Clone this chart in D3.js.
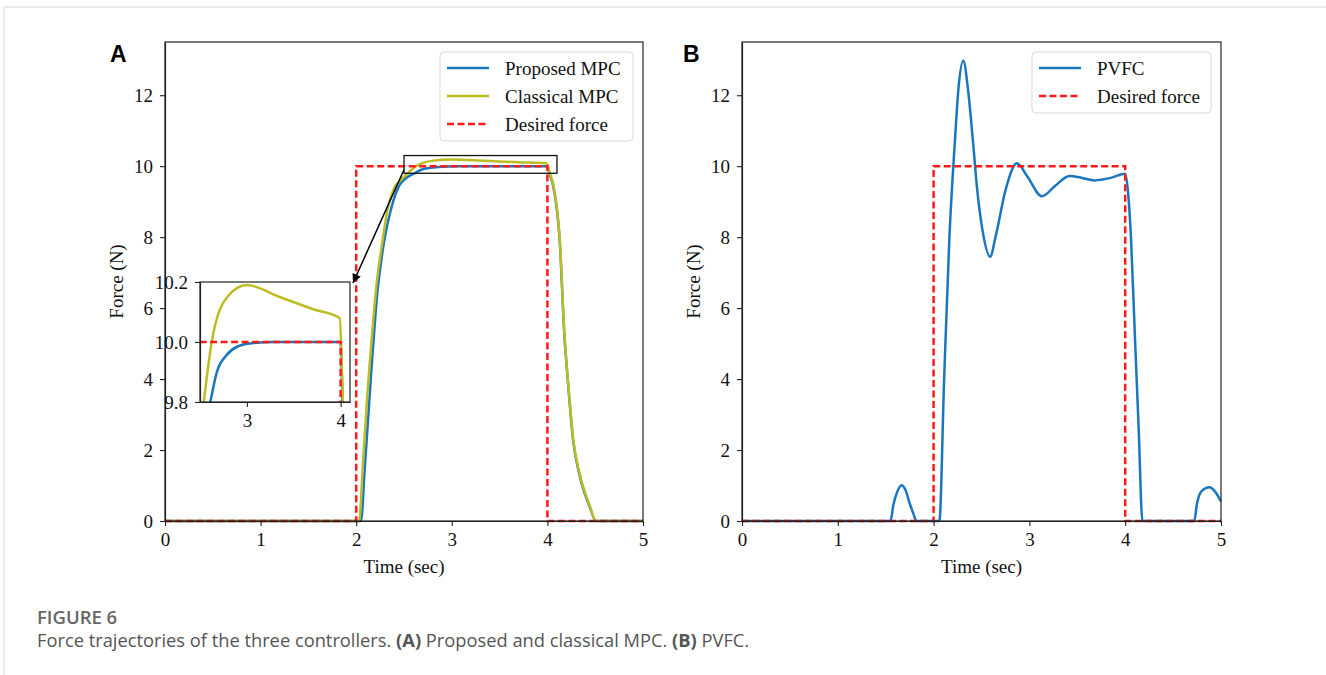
<!DOCTYPE html>
<html>
<head>
<meta charset="utf-8">
<script src="https://cdn.jsdelivr.net/npm/d3@7"></script>
<style>
  body { margin: 0; background: #fff; }
  svg text { font-family: "Liberation Serif", "Times New Roman", serif; }
  .tick text { font-family: "Liberation Serif", "Times New Roman", serif; font-size: 19px; fill: #111; }
</style>
</head>
<body>
<svg id="chart" width="1326" height="675"></svg>
<script>
// ---- data ----
var timeTicks = [0, 1, 2, 3, 4, 5];
var forceTicks = [0, 2, 4, 6, 8, 10, 12];
var insetTimeTicks = [3, 4];
var insetForceTicks = [9.8, 10.0, 10.2];

var desiredTime = [0, 2, 2, 4, 4, 5];
var desiredForce = [0, 0, 10, 10, 0, 0];

var proposedTime = [0, 2.05, 2.09, 2.13, 2.16, 2.19, 2.22, 2.25, 2.30, 2.37, 2.45, 2.52, 2.61, 2.68, 2.78, 2.90, 3.05, 3.30, 4.0,
  4.02, 4.06, 4.13, 4.175, 4.22, 4.27, 4.34, 4.44, 4.51, 5];
var proposedForce = [0, 0, 1.5, 3.1, 4.3, 5.4, 6.4, 7.1, 8.0, 8.85, 9.45, 9.66, 9.8, 9.9, 9.955, 9.985, 9.996, 10.0, 10.0,
  9.8, 9.45, 7.85, 5.35, 3.75, 2.25, 1.25, 0.42, 0, 0];

var classicalTime = [0, 2.03, 2.07, 2.11, 2.14, 2.17, 2.21, 2.27, 2.33, 2.40, 2.47, 2.54, 2.625, 2.79, 3.0, 3.35, 3.70, 3.99,
  4.025, 4.06, 4.13, 4.175, 4.22, 4.27, 4.34, 4.44, 4.51, 5];
var classicalForce = [0, 0, 1.6, 3.3, 4.4, 5.4, 6.6, 7.8, 8.8, 9.4, 9.62, 9.8, 10.0, 10.15, 10.19, 10.15, 10.11, 10.08,
  9.8, 9.5, 7.9, 5.4, 3.8, 2.3, 1.3, 0.45, 0, 0];

var pvfcTime = [0, 1.55, 1.58, 1.62, 1.667, 1.71, 1.75, 1.79, 1.82, 2.06, 2.11, 2.165, 2.223, 2.258, 2.31, 2.36, 2.41, 2.456,
  2.51, 2.59, 2.65, 2.75, 2.87, 2.98, 3.13, 3.27, 3.42, 3.55, 3.68, 3.85, 4.0, 4.025, 4.06, 4.10, 4.14, 4.18,
  4.72, 4.75, 4.80, 4.88, 4.94, 5.0];
var pvfcForce = [0, 0, 0.45, 0.82, 1.01, 0.85, 0.5, 0.2, 0, 0, 4.0, 8.0, 10.73, 12.14, 12.97, 12.14, 10.73, 9.32,
  8.2, 7.45, 8.05, 9.32, 10.08, 9.7, 9.15, 9.45, 9.72, 9.67, 9.6, 9.67, 9.79, 9.4, 8.0, 5.3, 2.65, 0,
  0, 0.5, 0.85, 0.95, 0.82, 0.55];

// zoom window shown in the inset
var zoomTime = [2.5, 4.1];
var zoomForce = [9.8, 10.3];

var blue = "#1b77bd";
var olive = "#bcbd22";
var red = "#ff1a1a";
var lw = 2.5;

var svg = d3.select("#chart");

// light page frame
svg.append("line").attr("x1", 4).attr("y1", 7).attr("x2", 1326).attr("y2", 7)
  .attr("stroke", "#d6d6d6").attr("stroke-width", 1);
svg.append("line").attr("x1", 4).attr("y1", 7).attr("x2", 4).attr("y2", 675)
  .attr("stroke", "#d6d6d6").attr("stroke-width", 1);

svg.append("defs").append("marker")
  .attr("id", "arrow")
  .attr("viewBox", "0 0 10 10")
  .attr("refX", 10).attr("refY", 5)
  .attr("markerWidth", 11).attr("markerHeight", 9)
  .attr("markerUnits", "userSpaceOnUse")
  .attr("orient", "auto")
  .append("path").attr("d", "M0,0 L10,5 L0,10 z").attr("fill", "#000");

function pairs(t, f) {
  return t.map(function(d, i) { return [d, f[i]]; });
}

function drawAxes(g, x, y, w, h, xt, yt, fmt) {
  var xa = g.append("g")
    .attr("transform", "translate(0," + h + ")")
    .call(d3.axisBottom(x).tickValues(xt).tickSize(5).tickPadding(7).tickSizeOuter(0).tickFormat(fmt ? fmt.x : d3.format("d")));
  var ya = g.append("g")
    .call(d3.axisLeft(y).tickValues(yt).tickSize(5).tickPadding(7).tickSizeOuter(0).tickFormat(fmt ? fmt.y : d3.format("d")));
  [xa, ya].forEach(function(a) {
    a.attr("font-size", 19).attr("font-family", "Liberation Serif");
    a.selectAll("text").style("font-size", "19px").style("font-family", "'Liberation Serif', serif");
    a.selectAll(".tick line").attr("stroke", "#222").attr("stroke-width", 1.1);
    a.select(".domain").attr("stroke", "#222").attr("stroke-width", 1.2);
  });
  g.append("rect").attr("width", w).attr("height", h)
    .attr("fill", "none").attr("stroke", "#222").attr("stroke-width", 1.2);
}

function drawLine(g, data, x, y, color, dashed, clipId, curve) {
  var line = d3.line()
    .x(function(d) { return x(d[0]); })
    .y(function(d) { return y(d[1]); })
    .curve(curve || d3.curveMonotoneX);
  g.append("path")
    .datum(data)
    .attr("d", line)
    .attr("fill", "none")
    .attr("stroke", color)
    .attr("stroke-width", lw)
    .attr("stroke-dasharray", dashed ? "7,3.5" : null)
    .attr("clip-path", clipId ? "url(#" + clipId + ")" : null);
}

function drawLegend(g, x0, y0, w, entries) {
  var lg = g.append("g").attr("transform", "translate(" + x0 + "," + y0 + ")");
  lg.append("rect").attr("width", w).attr("height", entries.length * 28 + 5)
    .attr("rx", 4).attr("fill", "#fff").attr("fill-opacity", 0.8)
    .attr("stroke", "#d9d9d9").attr("stroke-width", 1);
  entries.forEach(function(e, i) {
    var yy = 16 + i * 28;
    lg.append("line").attr("x1", 7).attr("x2", 49).attr("y1", yy).attr("y2", yy)
      .attr("stroke", e.color).attr("stroke-width", lw)
      .attr("stroke-dasharray", e.dashed ? "7,3.5" : null);
    lg.append("text").attr("x", 65).attr("y", yy + 6.5)
      .attr("font-size", 19).attr("fill", "#111").text(e.name);
  });
}

function panel(left, right, top, bottom) {
  var w = right - left, h = bottom - top;
  var g = svg.append("g").attr("transform", "translate(" + left + "," + top + ")");
  var x = d3.scaleLinear().domain([0, 5]).range([0, w]);
  var y = d3.scaleLinear().domain([0, 13.5]).range([h, 0]);
  g.append("text").attr("x", w / 2).attr("y", h + 52)
    .attr("text-anchor", "middle").attr("font-size", 19).attr("fill", "#111").text("Time (sec)");
  g.append("text").attr("transform", "rotate(-90)")
    .attr("x", -h / 2).attr("y", -42)
    .attr("text-anchor", "middle").attr("font-size", 19).attr("fill", "#111").text("Force (N)");
  return { g: g, x: x, y: y, w: w, h: h };
}

// ---------- panel A ----------
var A = panel(165, 643, 42, 521);
drawLine(A.g, pairs(proposedTime, proposedForce), A.x, A.y, blue, false);
drawLine(A.g, pairs(classicalTime, classicalForce), A.x, A.y, olive, false);
drawLine(A.g, pairs(desiredTime, desiredForce), A.x, A.y, red, true, null, d3.curveLinear);
drawAxes(A.g, A.x, A.y, A.w, A.h, timeTicks, forceTicks);

// zoom window
A.g.append("rect")
  .attr("x", A.x(zoomTime[0])).attr("y", A.y(zoomForce[1]))
  .attr("width", A.x(zoomTime[1]) - A.x(zoomTime[0]))
  .attr("height", A.y(zoomForce[0]) - A.y(zoomForce[1]))
  .attr("fill", "none").attr("stroke", "#111").attr("stroke-width", 1.3);

// inset
var inset = { left: 200, right: 350, top: 282, bottom: 402 };
var ig = svg.append("g").attr("transform", "translate(" + inset.left + "," + inset.top + ")");
var iw = inset.right - inset.left, ih = inset.bottom - inset.top;
var ix = d3.scaleLinear().domain([2.5, 4.1]).range([0, iw]);
var iy = d3.scaleLinear().domain([9.8, 10.2]).range([ih, 0]);
svg.select("defs").append("clipPath").attr("id", "clipInset")
  .append("rect").attr("x", 0).attr("y", 0).attr("width", iw).attr("height", ih);
ig.append("rect").attr("width", iw).attr("height", ih).attr("fill", "#fff");
drawLine(ig, pairs(proposedTime, proposedForce), ix, iy, blue, false, "clipInset");
drawLine(ig, pairs(classicalTime, classicalForce), ix, iy, olive, false, "clipInset");
drawLine(ig, pairs(desiredTime, desiredForce), ix, iy, red, true, "clipInset", d3.curveLinear);
drawAxes(ig, ix, iy, iw, ih, insetTimeTicks, insetForceTicks, { x: d3.format("d"), y: d3.format(".1f") });

// arrow from zoom window to inset
svg.append("line")
  .attr("x1", 165 + A.x(zoomTime[0])).attr("y1", 42 + A.y(9.9))
  .attr("x2", inset.right + 3).attr("y2", inset.top + 1)
  .attr("stroke", "#000").attr("stroke-width", 1.5)
  .attr("marker-end", "url(#arrow)");

drawLegend(A.g, 275, 10, 193, [
  { name: "Proposed MPC", color: blue },
  { name: "Classical MPC", color: olive },
  { name: "Desired force", color: red, dashed: true }
]);

// ---------- panel B ----------
var B = panel(742, 1221, 42, 521);
drawLine(B.g, pairs(pvfcTime, pvfcForce), B.x, B.y, blue, false);
drawLine(B.g, pairs(desiredTime, desiredForce), B.x, B.y, red, true, null, d3.curveLinear);
drawAxes(B.g, B.x, B.y, B.w, B.h, timeTicks, forceTicks);
drawLegend(B.g, 290, 10, 179, [
  { name: "PVFC", color: blue },
  { name: "Desired force", color: red, dashed: true }
]);

// panel letters
svg.append("text").attr("x", 110).attr("y", 62).attr("font-size", 23).attr("font-weight", "bold")
  .style("font-family", "'Liberation Sans', Arial, sans-serif").attr("fill", "#000").text("A");
svg.append("text").attr("x", 683).attr("y", 62).attr("font-size", 23).attr("font-weight", "bold")
  .style("font-family", "'Liberation Sans', Arial, sans-serif").attr("fill", "#000").text("B");

// caption
svg.append("text").attr("x", 37).attr("y", 624).attr("font-size", 18.5).attr("font-weight", 600)
  .style("font-family", "'Open Sans', sans-serif").attr("fill", "#666").text("FIGURE 6");
var cap = svg.append("text").attr("x", 37).attr("y", 647).attr("font-size", 18.3)
  .style("font-family", "'Open Sans', sans-serif").attr("fill", "#555");
cap.append("tspan").text("Force trajectories of the three controllers. ");
cap.append("tspan").attr("font-weight", 700).text("(A)");
cap.append("tspan").text(" Proposed and classical MPC. ");
cap.append("tspan").attr("font-weight", 700).text("(B)");
cap.append("tspan").text(" PVFC.");
</script>
</body>
</html>
